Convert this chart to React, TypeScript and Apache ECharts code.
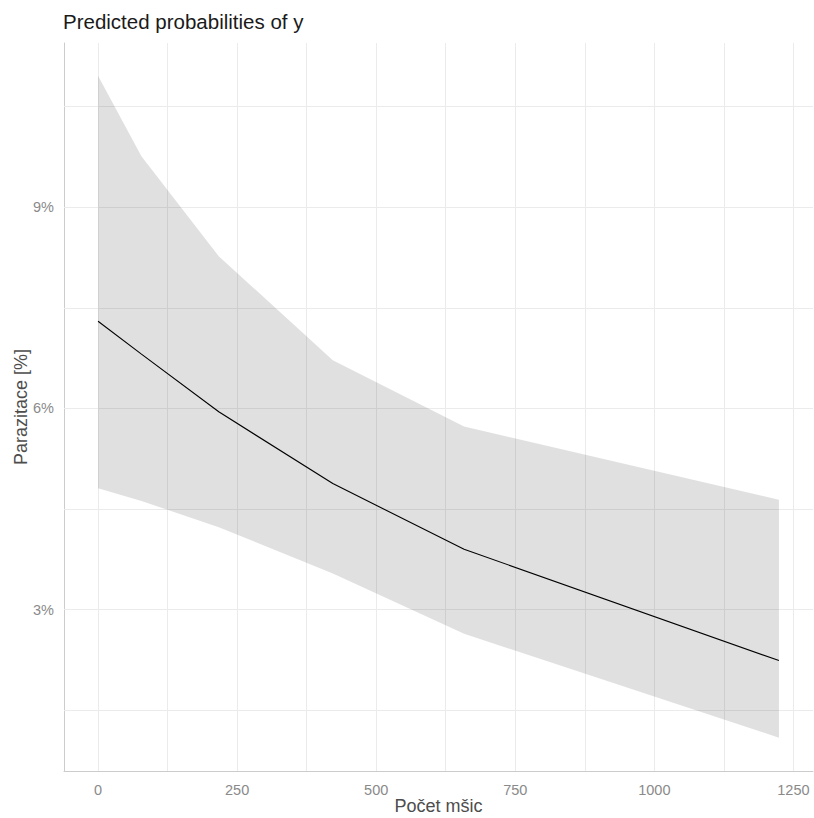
import React, { useEffect, useRef } from "react";
import * as echarts from "echarts";

// Data
const xValues = [0, 78, 217, 422, 658, 1224];
const predicted = [7.3, 6.81, 5.95, 4.88, 3.9, 2.24];
const upperCI = [10.96, 9.76, 8.27, 6.72, 5.73, 4.64];
const lowerCI = [4.81, 4.62, 4.23, 3.54, 2.64, 1.09];

const xTickValues = [0, 250, 500, 750, 1000, 1250];
const xMinorValues = [125, 375, 625, 875, 1125];
const yTickValues = [3, 6, 9];
const yMinorValues = [1.5, 4.5, 7.5, 10.5];

const titleText = "Predicted probabilities of y";
const xTitle = "Počet mšic";
const yTitle = "Parazitace [%]";

const FONT = "'Liberation Sans', Arial, sans-serif";

export default function App() {
  const ref = useRef<HTMLDivElement>(null);

  useEffect(() => {
    if (!ref.current) return;
    const chart = echarts.init(ref.current, null, { renderer: "svg" });

    const xMin = -61.2;
    const xMax = 1285.2;
    const yMin = 0.5935;
    const yMax = 11.45;

    const bandData = xValues.map((x, i) => [x, lowerCI[i], upperCI[i]]);
    const lineData = xValues.map((x, i) => [x, predicted[i]]);

    const gridLineData: any[] = [
      ...xTickValues.map((v) => ({ xAxis: v })),
      ...xMinorValues.map((v) => ({ xAxis: v })),
      ...yTickValues.map((v) => ({ yAxis: v })),
      ...yMinorValues.map((v) => ({ yAxis: v })),
    ];

    chart.setOption({
      animation: false,
      backgroundColor: "#ffffff",
      textStyle: { fontFamily: FONT },
      grid: { left: 64, right: 1, top: 43, bottom: 47, containLabel: false },
      xAxis: {
        type: "value",
        min: xMin,
        max: xMax,
        axisLine: { show: true, onZero: false, lineStyle: { color: "#cccccc", width: 1 } },
        axisTick: { show: false },
        splitLine: { show: false },
        axisLabel: {
          customValues: xTickValues,
          color: "#8a8a8a",
          fontSize: 14.5,
          fontFamily: FONT,
          margin: 11,
          formatter: (v: number) => String(v),
        },
      },
      yAxis: {
        type: "value",
        min: yMin,
        max: yMax,
        axisLine: { show: true, onZero: false, lineStyle: { color: "#cccccc", width: 1 } },
        axisTick: { show: false },
        splitLine: { show: false },
        axisLabel: {
          customValues: yTickValues,
          color: "#8a8a8a",
          fontSize: 14.5,
          fontFamily: FONT,
          margin: 10,
          formatter: (v: number) => `${v}%`,
        },
      },
      graphic: [
        {
          type: "text",
          left: 63,
          top: 11,
          style: {
            text: titleText,
            fill: "#1a1a1a",
            fontSize: 20.5,
            fontFamily: FONT,
          },
        },
        {
          type: "text",
          x: 438.5,
          y: 806,
          style: {
            text: xTitle,
            fill: "#4d4d4d",
            fontSize: 18,
            fontFamily: FONT,
            align: "center",
            verticalAlign: "middle",
          },
        },
        {
          type: "text",
          x: 21,
          y: 407,
          rotation: Math.PI / 2,
          style: {
            text: yTitle,
            fill: "#4d4d4d",
            fontSize: 18,
            fontFamily: FONT,
            align: "center",
            verticalAlign: "middle",
          },
        },
      ],
      series: [
        {
          type: "line",
          name: "grid",
          data: lineData,
          symbol: "none",
          silent: true,
          lineStyle: { opacity: 0 },
          z: 1,
          markLine: {
            z: 1,
            silent: true,
            symbol: ["none", "none"],
            label: { show: false },
            lineStyle: { color: "#ebebeb", width: 1, type: "solid" },
            emphasis: { disabled: true },
            data: gridLineData,
          },
        },
        {
          type: "custom",
          name: "band",
          data: bandData,
          silent: true,
          z: 2,
          clip: true,
          renderItem: (params: any, api: any) => {
            if (params.dataIndex !== 0) return null;
            const upperPts = bandData.map((d) => api.coord([d[0], d[2]]));
            const lowerPts = bandData
              .slice()
              .reverse()
              .map((d) => api.coord([d[0], d[1]]));
            return {
              type: "polygon",
              shape: { points: upperPts.concat(lowerPts) },
              style: { fill: "rgba(0,0,0,0.12)", stroke: "none" },
            };
          },
        },
        {
          type: "line",
          name: "predicted",
          data: lineData,
          symbol: "none",
          silent: true,
          lineStyle: { color: "#000000", width: 1.1 },
          z: 3,
        },
      ],
    });

    return () => {
      chart.dispose();
    };
  }, []);

  return (
    <div
      ref={ref}
      style={{ position: "fixed", left: 0, top: 0, width: 814, height: 818, background: "#fff" }}
    />
  );
}
